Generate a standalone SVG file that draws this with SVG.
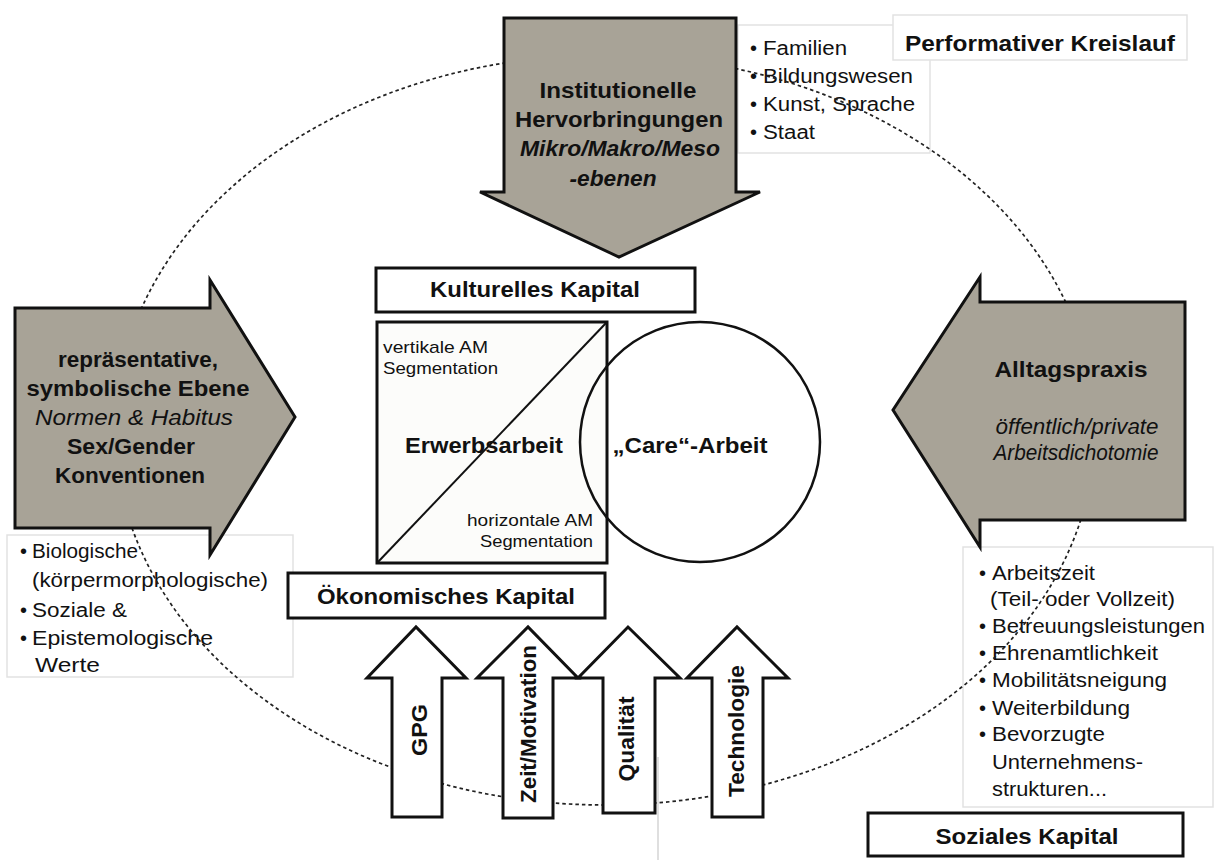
<svg xmlns="http://www.w3.org/2000/svg" width="1220" height="860" viewBox="0 0 1220 860">
<style>
text{font-family:"Liberation Sans",Arial,"DejaVu Sans",sans-serif;fill:#111}
.b{font-weight:bold;font-size:22px}
.bi{font-weight:bold;font-style:italic;font-size:22px}
.i{font-style:italic;font-size:22px}
.r{font-size:20px}
.s{font-size:17px}
.m{text-anchor:middle}
.e{text-anchor:end}
.gray{fill:#a8a397;stroke:#111;stroke-width:3;stroke-linejoin:miter}
.wht{fill:#fff;stroke:#111;stroke-width:3}
.faint{fill:#fff;stroke:#e2e2e2;stroke-width:1.5}
.cyc{fill:none;stroke:#222;stroke-width:1.7;stroke-dasharray:3.5 3}
</style>
<rect width="1220" height="860" fill="#fff"/>

<g id="list-top-box"><rect class="faint" x="738" y="25" width="192" height="128"/></g>
<g id="title"><rect class="faint" x="893" y="15" width="294" height="45" stroke="#d4d4d4"/>
<text class="b m" x="1040" y="51" textLength="270" lengthAdjust="spacingAndGlyphs">Performativer Kreislauf</text></g>
<g id="list-left-box"><rect class="faint" x="7" y="535" width="286" height="142"/></g>
<g id="list-right-box"><rect class="faint" x="963" y="547" width="250" height="260"/></g>
<line x1="658" y1="757" x2="658" y2="860" stroke="#d4d4d4" stroke-width="1.5"/>

<g id="list-top">
<text class="r" x="750" y="55">•</text><text class="r" x="763" y="55" textLength="84" lengthAdjust="spacingAndGlyphs">Familien</text>
<text class="r" x="750" y="83">•</text><text class="r" x="763" y="83" textLength="150" lengthAdjust="spacingAndGlyphs">Bildungswesen</text>
<text class="r" x="750" y="111">•</text><text class="r" x="763" y="111" textLength="152" lengthAdjust="spacingAndGlyphs">Kunst, Sprache</text>
<text class="r" x="750" y="139">•</text><text class="r" x="763" y="139" textLength="52" lengthAdjust="spacingAndGlyphs">Staat</text>
</g>
<g id="list-left">
<text class="r" x="20" y="558">•</text><text class="r" x="32" y="558" textLength="106" lengthAdjust="spacingAndGlyphs">Biologische</text>
<text class="r" x="32" y="587" textLength="236" lengthAdjust="spacingAndGlyphs">(körpermorphologische)</text>
<text class="r" x="20" y="617">•</text><text class="r" x="32" y="617" textLength="95" lengthAdjust="spacingAndGlyphs">Soziale &amp;</text>
<text class="r" x="20" y="645">•</text><text class="r" x="32" y="645" textLength="181" lengthAdjust="spacingAndGlyphs">Epistemologische</text>
<text class="r" x="35" y="672" textLength="65" lengthAdjust="spacingAndGlyphs">Werte</text>
</g>
<g id="list-right">
<text class="r" x="979" y="580">•</text><text class="r" x="992" y="580" textLength="103" lengthAdjust="spacingAndGlyphs">Arbeitszeit</text>
<text class="r" x="990" y="606" textLength="185" lengthAdjust="spacingAndGlyphs">(Teil- oder Vollzeit)</text>
<text class="r" x="979" y="633">•</text><text class="r" x="992" y="633" textLength="213" lengthAdjust="spacingAndGlyphs">Betreuungsleistungen</text>
<text class="r" x="979" y="660">•</text><text class="r" x="992" y="660" textLength="166" lengthAdjust="spacingAndGlyphs">Ehrenamtlichkeit</text>
<text class="r" x="979" y="687">•</text><text class="r" x="992" y="687" textLength="175" lengthAdjust="spacingAndGlyphs">Mobilitätsneigung</text>
<text class="r" x="979" y="715">•</text><text class="r" x="992" y="715" textLength="138" lengthAdjust="spacingAndGlyphs">Weiterbildung</text>
<text class="r" x="979" y="741">•</text><text class="r" x="992" y="741" textLength="113" lengthAdjust="spacingAndGlyphs">Bevorzugte</text>
<text class="r" x="992" y="769" textLength="151" lengthAdjust="spacingAndGlyphs">Unternehmens-</text>
<text class="r" x="992" y="796" textLength="115" lengthAdjust="spacingAndGlyphs">strukturen...</text>
</g>

<g id="connectors">
<ellipse class="cyc" cx="605" cy="430" rx="490" ry="375"/>
</g>

<g id="arrow-top">
<polygon class="gray" points="504,18 736,18 736,192 760,192 619,257 480,192 504,192"/>
<text class="b m" x="618" y="98" textLength="157" lengthAdjust="spacingAndGlyphs">Institutionelle</text>
<text class="b m" x="619" y="127" textLength="208" lengthAdjust="spacingAndGlyphs">Hervorbringungen</text>
<text class="bi m" x="620" y="156" textLength="200" lengthAdjust="spacingAndGlyphs">Mikro/Makro/Meso</text>
<text class="bi m" x="613" y="186" textLength="87" lengthAdjust="spacingAndGlyphs">-ebenen</text>
</g>

<g id="arrow-left">
<polygon class="gray" points="15,308 210,308 210,280 295,417 210,555 210,528 15,528"/>
<text class="b m" x="138" y="367" textLength="160" lengthAdjust="spacingAndGlyphs">repräsentative,</text>
<text class="b m" x="138" y="396" textLength="223" lengthAdjust="spacingAndGlyphs">symbolische Ebene</text>
<text class="i m" x="134" y="425" textLength="198" lengthAdjust="spacingAndGlyphs">Normen &amp; Habitus</text>
<text class="b m" x="131" y="454" textLength="128" lengthAdjust="spacingAndGlyphs">Sex/Gender</text>
<text class="b m" x="130" y="483" textLength="150" lengthAdjust="spacingAndGlyphs">Konventionen</text>
</g>

<g id="arrow-right">
<polygon class="gray" points="1185,302 980,302 980,277 893,410 980,547 980,520 1185,520"/>
<text class="b m" x="1071" y="377" textLength="153" lengthAdjust="spacingAndGlyphs">Alltagspraxis</text>
<text class="i m" x="1077" y="434" textLength="163" lengthAdjust="spacingAndGlyphs">öffentlich/private</text>
<text class="i m" x="1076" y="460" textLength="165" lengthAdjust="spacingAndGlyphs">Arbeitsdichotomie</text>
</g>

<g id="kulturelles-kapital">
<rect class="wht" x="376" y="268" width="319" height="44"/>
<text class="b m" x="535" y="297" textLength="210" lengthAdjust="spacingAndGlyphs">Kulturelles Kapital</text>
</g>

<g id="erwerbsarbeit">
<rect x="377" y="322" width="230" height="241" fill="#fcfcfa" stroke="#111" stroke-width="3"/>
<line x1="378" y1="562" x2="606" y2="323" stroke="#111" stroke-width="2"/>
<text class="s" x="383" y="353" textLength="105" lengthAdjust="spacingAndGlyphs">vertikale AM</text>
<text class="s" x="383" y="374" textLength="115" lengthAdjust="spacingAndGlyphs">Segmentation</text>
<text class="b m" x="484" y="453" textLength="158" lengthAdjust="spacingAndGlyphs">Erwerbsarbeit</text>
<text class="s e" x="593" y="526" textLength="126" lengthAdjust="spacingAndGlyphs">horizontale AM</text>
<text class="s e" x="593" y="547" textLength="113" lengthAdjust="spacingAndGlyphs">Segmentation</text>
</g>

<g id="care-arbeit">
<circle cx="700" cy="442" r="120" fill="none" stroke="#111" stroke-width="2.5"/>
<text class="b m" x="690" y="453" textLength="155" lengthAdjust="spacingAndGlyphs">„Care“-Arbeit</text>
</g>

<g id="oekonomisches-kapital">
<rect class="wht" x="288" y="573" width="317" height="45"/>
<text class="b m" x="446" y="604" textLength="258" lengthAdjust="spacingAndGlyphs">Ökonomisches Kapital</text>
</g>

<g id="arrow-gpg">
<polygon class="wht" points="392,817 392,678 367,678 416,627 466,678 442,678 442,817"/>
<text class="b m" transform="translate(427,730) rotate(-90)" textLength="52" lengthAdjust="spacingAndGlyphs">GPG</text>
</g>
<g id="arrow-zeit">
<polygon class="wht" points="503,818 503,678 477,678 528,627 578,678 553,678 553,818"/>
<text class="b m" transform="translate(536,724) rotate(-90)" textLength="158" lengthAdjust="spacingAndGlyphs">Zeit/Motivation</text>
</g>
<g id="arrow-qualitaet">
<polygon class="wht" points="603,813 603,678 578,678 628,627 680,678 655,678 655,813"/>
<text class="b m" transform="translate(634,739) rotate(-90)" textLength="85" lengthAdjust="spacingAndGlyphs">Qualität</text>
</g>
<g id="arrow-technologie">
<polygon class="wht" points="712,817 712,678 687,678 737,627 788,678 763,678 763,817"/>
<text class="b m" transform="translate(744,731) rotate(-90)" textLength="132" lengthAdjust="spacingAndGlyphs">Technologie</text>
</g>

<g id="soziales-kapital">
<rect class="wht" x="868" y="813" width="315" height="43"/>
<text class="b m" x="1027" y="844" textLength="183" lengthAdjust="spacingAndGlyphs">Soziales Kapital</text>
</g>
</svg>
